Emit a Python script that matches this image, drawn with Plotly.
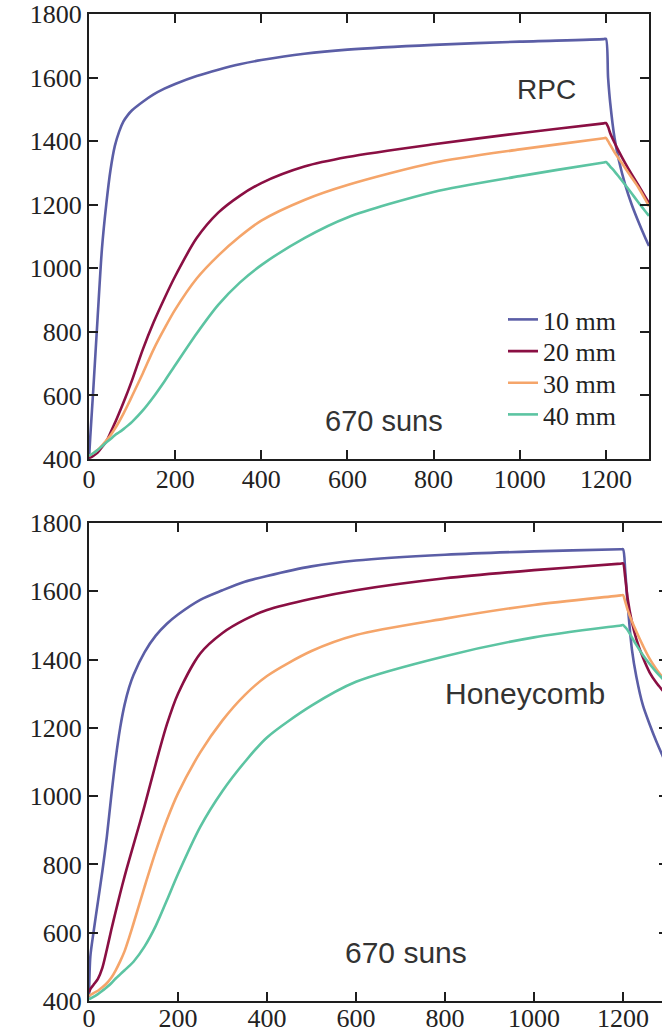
import plotly.graph_objects as go

# time grid (s)
t = [0, 3, 10, 20, 30, 40, 50, 60, 70, 80, 90, 100, 125, 150, 175, 200, 250, 300, 350, 400,
     500, 600, 800, 1000, 1195, 1200, 1205, 1210, 1220, 1230, 1245, 1260, 1275, 1290, 1300]

series_names = ["10 mm", "20 mm", "30 mm", "40 mm"]
colors = ["#5b5ea6", "#8a0f43", "#f5a56a", "#5cc4a2"]

# RPC panel
rpc_10 = [400, 470, 620, 845, 1060, 1200, 1310, 1385, 1430, 1462, 1482, 1497, 1524, 1547, 1565, 1580,
          1605, 1625, 1642, 1655, 1675, 1688, 1703, 1713, 1721, 1722, 1600, 1520, 1410, 1340, 1262, 1200,
          1148, 1100, 1070]
rpc_20 = [405, 405, 410, 420, 437, 455, 483, 513, 545, 578, 612, 648, 745, 830, 905, 975,
          1095, 1175, 1228, 1268, 1320, 1350, 1390, 1425, 1456, 1457, 1445, 1425, 1395, 1368, 1330, 1295,
          1262, 1228, 1205]
rpc_30 = [410, 412, 418, 428, 442, 458, 475, 495, 518, 543, 570, 598, 670, 745, 810, 870,
          968, 1040, 1100, 1150, 1215, 1262, 1332, 1374, 1409, 1410, 1400, 1388, 1365, 1345, 1315, 1285,
          1255, 1220, 1195]
rpc_40 = [410, 412, 418, 428, 440, 452, 463, 475, 484, 494, 505, 517, 553, 596, 644, 695,
          795, 885, 955, 1010, 1095, 1160, 1240, 1290, 1333, 1334, 1328, 1320, 1305, 1288, 1262, 1235,
          1208, 1182, 1165]

# Honeycomb panel
hc_10 = [410, 530, 600, 690, 780, 880, 1000, 1110, 1200, 1268, 1318, 1355, 1422, 1470, 1505, 1532,
         1575, 1603, 1628, 1645, 1673, 1690, 1707, 1717, 1723, 1723, 1660, 1570, 1430, 1350, 1265, 1210,
         1160, 1115, 1085]
hc_20 = [425, 435, 447, 465, 497, 550, 608, 662, 715, 765, 812, 857, 972, 1095, 1210, 1300,
         1418, 1478, 1517, 1545, 1578, 1603, 1638, 1662, 1681, 1682, 1640, 1583, 1510, 1460, 1405, 1362,
         1332, 1308, 1292]
hc_30 = [415, 417, 423, 430, 440, 452, 468, 490, 516, 546, 585, 627, 735, 838, 930, 1008,
         1128, 1222, 1296, 1352, 1425, 1472, 1520, 1560, 1588, 1589, 1570, 1548, 1512, 1482, 1440, 1402,
         1372, 1346, 1330]
hc_40 = [405, 407, 412, 420, 430, 440, 452, 466, 478, 490, 502, 515, 560, 620, 695, 772,
         910, 1015, 1100, 1172, 1265, 1335, 1410, 1465, 1500, 1501, 1495, 1487, 1465, 1443, 1413, 1387,
         1363, 1342, 1328]

x_ticks = [0, 200, 400, 600, 800, 1000, 1200]
y_ticks = [400, 600, 800, 1000, 1200, 1400, 1600, 1800]

W, H = 672, 1034
fig = go.Figure()

legend_ids = ["legend", "legend2", "legend3", "legend4"]
for name, c, ys, lg in zip(series_names, colors, [rpc_10, rpc_20, rpc_30, rpc_40], legend_ids):
    fig.add_trace(go.Scatter(x=t, y=ys, mode="lines", name=name, legend=lg,
                             line=dict(color=c, width=2.6, shape="spline", smoothing=0.8),
                             xaxis="x", yaxis="y", showlegend=True))
for name, c, ys in zip(series_names, colors, [hc_10, hc_20, hc_30, hc_40]):
    fig.add_trace(go.Scatter(x=t, y=ys, mode="lines", name=name,
                             line=dict(color=c, width=2.6, shape="spline", smoothing=0.8),
                             xaxis="x2", yaxis="y2", showlegend=False))

tick_font = dict(family="Liberation Serif", size=26, color="#222")
ax_common = dict(showline=True, linecolor="#1e1e1e", linewidth=2, mirror="ticks",
                 ticks="inside", ticklen=9, tickwidth=2, tickcolor="#1e1e1e",
                 showgrid=False, zeroline=False, tickfont=tick_font, automargin=False,
                 ticklabeloverflow="allow")

legend_font = dict(family="Liberation Serif", size=26, color="#222")
legend_tops = [296, 327.7, 359.3, 391]
legends = {}
for lg, top in zip(legend_ids, legend_tops):
    legends[lg] = dict(x=503 / W, y=1 - top / H, xanchor="left", yanchor="top",
                       font=legend_font, bgcolor="rgba(0,0,0,0)", itemwidth=30)

fig.update_layout(
    width=W, height=H, autosize=False,
    margin=dict(l=0, r=0, t=0, b=0),
    paper_bgcolor="white", plot_bgcolor="white",
    hovermode=False,
    xaxis=dict(domain=[89 / W, 649 / W], range=[0, 1300], tickvals=x_ticks,
               anchor="y", ticklabelstandoff=-4, **ax_common),
    yaxis=dict(domain=[1 - 459 / H, 1 - 14 / H], range=[400, 1800], tickvals=y_ticks,
               anchor="x", **ax_common),
    xaxis2=dict(domain=[89 / W, 667.5 / W], range=[0, 1300], tickvals=x_ticks,
                anchor="y2", ticklabelstandoff=-7, **ax_common),
    yaxis2=dict(domain=[1 - 1001 / H, 1 - 523 / H], range=[400, 1800], tickvals=y_ticks,
                anchor="x2", **ax_common),
    showlegend=True,
    **legends,
)

ann_font = "Liberation Sans"
fig.add_annotation(x=1062, y=1564, xref="x", yref="y", text="RPC", showarrow=False,
                   font=dict(family=ann_font, size=28, color="#333"))
fig.add_annotation(x=684, y=520, xref="x", yref="y", text="670 suns", showarrow=False,
                   font=dict(family=ann_font, size=29, color="#333"))
fig.add_annotation(x=980, y=1300, xref="x2", yref="y2", text="Honeycomb", showarrow=False,
                   font=dict(family=ann_font, size=30, color="#333"))
fig.add_annotation(x=712, y=543, xref="x2", yref="y2", text="670 suns", showarrow=False,
                   font=dict(family=ann_font, size=30, color="#333"))

fig.write_html("out.html", config={"displayModeBar": False},
               post_script="document.body.style.margin='0';document.body.style.overflow='hidden';")
